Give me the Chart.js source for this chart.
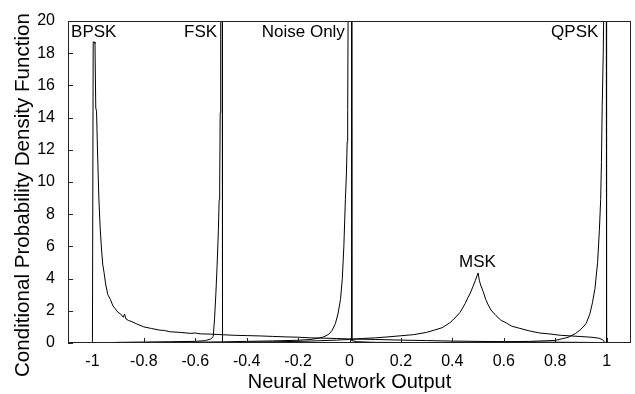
<!DOCTYPE html>
<html>
<head>
<meta charset="utf-8">
<script src="https://cdn.jsdelivr.net/npm/chart.js@4/dist/chart.umd.min.js"></script>
<style>
  html, body { margin: 0; padding: 0; background: #fff; }
  #wrap { width: 635px; height: 394px; position: relative; }
</style>
</head>
<body>
<div id="wrap"><canvas id="pdf"></canvas></div>
<script>
// x tick labels shown on the axis
const X_TICKS = [-1, -0.8, -0.6, -0.4, -0.2, 0, 0.2, 0.4, 0.6, 0.8, 1];

// BPSK curve (sharp peak at -1)
const BPSK_X = [-1.095, -1.0, -0.997, -0.993, -0.99, -0.987, -0.984, -0.98, -0.975, -0.97, -0.965, -0.96, -0.955, -0.948, -0.94, -0.93, -0.92, -0.91, -0.9, -0.89, -0.88, -0.875, -0.87, -0.86, -0.85, -0.83, -0.8, -0.77, -0.74, -0.72, -0.7, -0.66, -0.62, -0.6, -0.58, -0.54, -0.5, -0.45, -0.4, -0.35, -0.3, -0.25, -0.2, -0.15, -0.1, -0.05, 0, 0.1, 0.2, 0.3, 0.4, 0.5, 0.6, 0.7, 0.8, 0.9, 0.97, 1.0, 1.095];
const BPSK_Y = [0, 0, 18.7, 18.7, 18.6, 14.6, 14.4, 11.8, 9.0, 7.2, 5.9, 4.9, 4.4, 3.6, 3.0, 2.7, 2.3, 2.1, 1.9, 1.8, 1.6, 1.8, 1.5, 1.4, 1.35, 1.2, 1.0, 0.9, 0.8, 0.78, 0.7, 0.66, 0.6, 0.62, 0.57, 0.55, 0.52, 0.48, 0.46, 0.44, 0.41, 0.38, 0.36, 0.32, 0.3, 0.28, 0.25, 0.22, 0.18, 0.15, 0.12, 0.1, 0.08, 0.06, 0.05, 0.04, 0.03, 0, 0];

// FSK curve (spike at -0.5)
const FSK_X = [-1.095, -0.99, -0.9, -0.8, -0.7, -0.6, -0.56, -0.54, -0.53, -0.525, -0.52, -0.515, -0.51, -0.507, -0.505, -0.503, -0.501, -0.495, -0.494, -0.4, -0.2, 0, 0.3, 0.6, 1.0, 1.095];
const FSK_Y = [0, 0, 0.04, 0.06, 0.08, 0.1, 0.15, 0.25, 0.4, 1.5, 3.0, 4.8, 7.0, 8.9, 9.7, 14.3, 22, 22, 0, 0.03, 0.02, 0.01, 0, 0, 0, 0];

// Noise only curve (spike at 0)
const NOISE_X = [-1.095, -0.8, -0.6, -0.5, -0.4, -0.3, -0.2, -0.15, -0.12, -0.1, -0.08, -0.067, -0.055, -0.045, -0.035, -0.028, -0.022, -0.016, -0.012, -0.009, -0.007, -0.005, 0.008, 0.009, 0.03, 0.1, 0.3, 0.6, 1.095];
const NOISE_Y = [0, 0.02, 0.05, 0.07, 0.1, 0.13, 0.17, 0.22, 0.3, 0.38, 0.55, 0.8, 1.2, 1.8, 2.7, 4.0, 6.0, 8.9, 10.5, 12.5, 14.5, 22, 22, 0.15, 0.08, 0.04, 0.02, 0, 0];

// MSK curve (broad peak at 0.5)
const MSK_X = [-1.095, -0.8, -0.5, -0.3, -0.15, -0.05, 0.0, 0.05, 0.1, 0.15, 0.2, 0.25, 0.3, 0.33, 0.36, 0.39, 0.41, 0.43, 0.45, 0.46, 0.47, 0.48, 0.49, 0.5, 0.505, 0.51, 0.52, 0.53, 0.54, 0.55, 0.57, 0.59, 0.61, 0.63, 0.66, 0.7, 0.74, 0.78, 0.82, 0.86, 0.9, 0.94, 0.97, 0.985, 0.995, 1.095];
const MSK_Y = [0, 0.01, 0.03, 0.07, 0.12, 0.18, 0.22, 0.28, 0.32, 0.38, 0.45, 0.52, 0.66, 0.8, 0.95, 1.25, 1.55, 1.9, 2.45, 2.8, 3.1, 3.5, 3.9, 4.35, 3.9, 3.6, 3.2, 2.7, 2.35, 2.05, 1.7, 1.4, 1.25, 1.05, 0.92, 0.75, 0.62, 0.56, 0.48, 0.44, 0.4, 0.36, 0.3, 0.2, 0, 0];

// QPSK curve (spike at 1)
const QPSK_X = [-1.095, -0.5, 0, 0.3, 0.5, 0.7, 0.8, 0.85, 0.88, 0.9, 0.92, 0.935, 0.945, 0.955, 0.965, 0.972, 0.977, 0.98, 0.983, 0.987, 0.99, 0.999, 1.0, 1.095];
const QPSK_Y = [0, 0, 0.01, 0.03, 0.05, 0.1, 0.16, 0.35, 0.6, 0.85, 1.2, 1.8, 2.5, 3.4, 5.0, 7.0, 8.9, 11.2, 14.7, 18, 22, 22, 0, 0];

// curve labels, anchored in data units
const LABEL_TEXT = ["BPSK", "FSK", "Noise Only", "QPSK", "MSK"];
const LABEL_X = [-1.083, -0.515, -0.018, 0.968, 0.498];
const LABEL_Y = [19.0, 19.0, 19.0, 19.0, 4.74];
const LABEL_ALIGN = ["left", "right", "right", "right", "center"];

const Y_TITLE = "Conditional Probability Density Function";

function points(xs, ys) {
  return xs.map((x, i) => ({ x: x, y: ys[i] }));
}

function curve(label, xs, ys) {
  return {
    label: label,
    data: points(xs, ys),
    showLine: true,
    borderColor: "#000",
    borderWidth: 1,
    pointRadius: 0,
    tension: 0,
  };
}

// frame, inward tick marks, curve names and the y title
const framePlugin = {
  id: "frame",
  afterDraw(chart) {
    const { ctx, chartArea: a, scales } = chart;
    ctx.save();
    ctx.strokeStyle = "#222";
    ctx.lineWidth = 1;
    ctx.strokeRect(a.left + 0.5, a.top + 0.5, a.right - a.left - 1, a.bottom - a.top - 1);

    ctx.beginPath();
    scales.x.ticks.forEach((t) => {
      const px = Math.round(scales.x.getPixelForValue(t.value)) + 0.5;
      ctx.moveTo(px, a.bottom);
      ctx.lineTo(px, a.bottom - 5);
    });
    scales.y.ticks.forEach((t) => {
      const py = Math.round(scales.y.getPixelForValue(t.value)) + 0.5;
      ctx.moveTo(a.left, py);
      ctx.lineTo(a.left + 5, py);
    });
    ctx.stroke();

    ctx.fillStyle = "#000";
    ctx.font = "17px 'Liberation Sans', Arial, sans-serif";
    ctx.textBaseline = "alphabetic";
    LABEL_TEXT.forEach((txt, i) => {
      ctx.textAlign = LABEL_ALIGN[i];
      ctx.fillText(txt, scales.x.getPixelForValue(LABEL_X[i]), scales.y.getPixelForValue(LABEL_Y[i]));
    });

    // y title sits a little below the middle of the axis in the original
    ctx.translate(23, 195);
    ctx.rotate(-Math.PI / 2);
    ctx.font = "20.6px 'Liberation Sans', Arial, sans-serif";
    ctx.textAlign = "center";
    ctx.textBaseline = "middle";
    ctx.fillText(Y_TITLE, 0, 0);
    ctx.restore();
  },
};

Chart.defaults.font.family = "'Liberation Sans', Arial, sans-serif";
Chart.defaults.color = "#000";

new Chart(document.getElementById("pdf"), {
  type: "scatter",
  data: {
    datasets: [
      curve("BPSK", BPSK_X, BPSK_Y),
      curve("FSK", FSK_X, FSK_Y),
      curve("Noise Only", NOISE_X, NOISE_Y),
      curve("MSK", MSK_X, MSK_Y),
      curve("QPSK", QPSK_X, QPSK_Y),
    ],
  },
  options: {
    responsive: true,
    maintainAspectRatio: false,
    animation: false,
    layout: { padding: { top: 21, right: 4, left: 0, bottom: 0 } },
    plugins: {
      legend: { display: false },
      tooltip: { enabled: false },
    },
    scales: {
      x: {
        type: "linear",
        min: -1.095,
        max: 1.095,
        afterBuildTicks: (scale) => {
          scale.ticks = X_TICKS.map((v) => ({ value: v }));
        },
        afterFit: (scale) => {
          scale.height = 51;
        },
        grid: { display: false },
        border: { display: false },
        ticks: {
          font: { size: 16 },
          padding: 1,
          maxRotation: 0,
          autoSkip: false,
          callback: (v) => String(v),
        },
        title: {
          display: true,
          text: "Neural Network Output",
          font: { size: 20 },
          padding: { top: 0, bottom: 0 },
        },
      },
      y: {
        min: 0,
        max: 20,
        afterFit: (scale) => {
          scale.width = 68;
        },
        grid: { display: false },
        border: { display: false },
        ticks: {
          stepSize: 2,
          font: { size: 16 },
          padding: 5,
        },
      },
    },
  },
  plugins: [framePlugin],
});
</script>
</body>
</html>
